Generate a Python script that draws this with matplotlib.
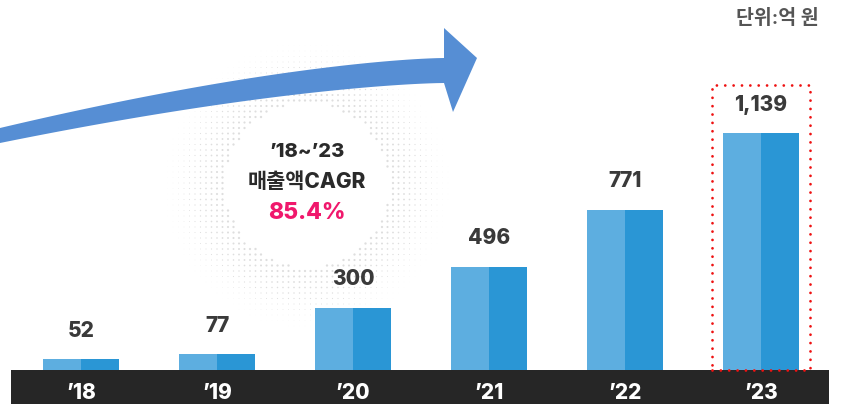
import numpy as np
import matplotlib
matplotlib.use("Agg")
import matplotlib.pyplot as plt
from matplotlib.patches import Rectangle, Polygon

plt.rcParams['font.family'] = ['Inter', 'Noto Sans CJK KR', 'DejaVu Sans']

# ---- data ----
years = ["\u201918", "\u201919", "\u201920", "\u201921", "\u201922", "\u201923"]
sales = [52, 77, 300, 496, 771, 1139]
unit_label = "단위:억 원"
cagr_period = "\u201918~\u201923"
cagr_title = "매출액CAGR"
cagr_value = "85.4%"

W, H = 848, 404
fig = plt.figure(figsize=(W / 100, H / 100), dpi=100)
fig.patch.set_facecolor('white')

# background axes in pixel coordinates (decoration)
bg = fig.add_axes([0, 0, 1, 1], zorder=0)
bg.set_xlim(0, W)
bg.set_ylim(H, 0)
bg.axis('off')

# halftone ring
cx, cy = 307, 185
r_in, r_out = 82, 145
step = 5.5
gx, gy = np.meshgrid(np.arange(cx - r_out, cx + r_out, step),
                     np.arange(cy - r_out, cy + r_out, step))
gx = gx.ravel(); gy = gy.ravel()
rr = np.hypot(gx - cx, gy - cy)
m = (rr > r_in) & (rr < r_out)
frac = 1 - (rr[m] - r_in) / (r_out - r_in)
sizes = (2.4 * frac ** 0.9) ** 2
bg.scatter(gx[m], gy[m], s=sizes * 0.5, color='#dedede', linewidths=0, zorder=1)

# curved arrow
xs = np.linspace(0, 444, 60)
t = 1 - xs / 444
top = 128 - 70 * (1 - t ** 1.5)
bot = 143 - 60 * (1 - t ** 1.5)
pts = list(zip(xs, top)) + [(444, 28), (477, 58), (453, 112)] + list(zip(xs[::-1], bot[::-1]))
bg.add_patch(Polygon(pts, closed=True, facecolor='#568ED4', edgecolor='none', zorder=2))

# bar axes in data coordinates
px_per_unit = 237 / 1139
baseline_px = 370
ax = fig.add_axes([0, 0, 1, 1], zorder=1)
ax.patch.set_alpha(0)
ax.set_xlim(-0.5 - 13 / 136, 5.5 + 19 / 136)
ax.set_ylim(-(H - baseline_px) / px_per_unit, baseline_px / px_per_unit)
ax.axis('off')

x = np.arange(len(years))
bw = 76 / 136
ax.bar(x - bw / 4, sales, bw / 2, color='#5DAEE0', linewidth=0, zorder=2)
ax.bar(x + bw / 4, sales, bw / 2, color='#2A96D5', linewidth=0, zorder=2)

# dark band
band_bottom = -(H - baseline_px) / px_per_unit
ax.add_patch(Rectangle((-0.5 - 2 / 136, band_bottom), 6 + 2 / 136, -band_bottom,
                       facecolor='#262626', edgecolor='none', zorder=3))
for xi, lab in zip(x, years):
    ax.annotate(lab, (xi, 0), xytext=(0, -16.5), textcoords='offset points',
                ha='center', va='center', color='white',
                fontsize=15, fontweight='heavy', zorder=4, annotation_clip=False)

# value labels
for xi, v in zip(x, sales):
    ax.annotate(f"{v:,}", (xi, v), xytext=(0, 20.5), textcoords='offset points',
                ha='center', va='center', fontsize=15, fontweight='heavy',
                color='#3a3a3a', zorder=4)

# red dotted highlight box around last bar
hb = 98 / 136
ax.add_patch(Rectangle((x[-1] - hb / 2, 0), hb, sales[-1] + 48 / px_per_unit,
                       facecolor='none', edgecolor='#EE1111', linewidth=2.0,
                       linestyle=(0, (0.01, 3.0)), capstyle='round',
                       joinstyle='round', zorder=5))

# CAGR text
bg.text(cx, 152, cagr_period, ha='center', va='center', fontsize=14.5,
        fontweight='heavy', color='#2a2a2a', zorder=5)
bg.text(cx, 182, cagr_title, ha='center', va='center', fontsize=15,
        fontweight='heavy', color='#2a2a2a', zorder=5)
bg.text(cx, 213, cagr_value, ha='center', va='center', fontsize=16.5,
        fontweight='heavy', color='#F0186C', zorder=5)

# unit label
bg.text(819, 19, unit_label, ha='right', va='center', fontsize=14,
        fontweight='bold', color='#555555', zorder=5)

fig.savefig('out.png', dpi=100, facecolor='white')
